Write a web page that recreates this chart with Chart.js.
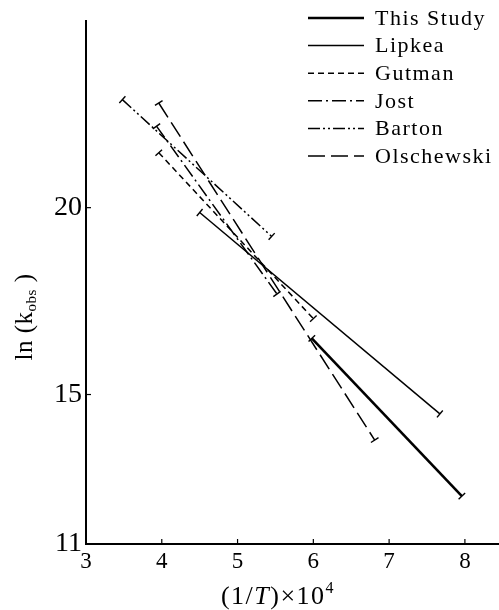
<!DOCTYPE html>
<html>
<head>
<meta charset="utf-8">
<script src="https://cdn.jsdelivr.net/npm/chart.js@4.4.0/dist/chart.umd.min.js"></script>
<style>
  html, body { margin: 0; padding: 0; background: #fff; }
  #wrap { width: 499px; height: 610px; }
</style>
</head>
<body>
<div id="wrap"><canvas id="chart" width="499" height="610"></canvas></div>
<script>
// series names, in legend order
const seriesNames = ['This Study', 'Lipkea', 'Gutman', 'Jost', 'Barton', 'Olschewski'];

// end points of each line: x = (1/T) x 10^4, y = ln(k_obs)
const thisStudyX = [5.98, 7.96];
const thisStudyY = [16.50, 12.28];
const lipkeaX = [4.50, 7.67];
const lipkeaY = [19.87, 14.48];
const gutmanX = [3.96, 6.00];
const gutmanY = [21.47, 17.03];
const jostX = [3.93, 5.52];
const jostY = [22.18, 17.69];
const bartonX = [3.48, 5.45];
const bartonY = [22.89, 19.23];
const olschewskiX = [3.96, 6.81];
const olschewskiY = [22.80, 13.78];

const xTicks = [3, 4, 5, 6, 7, 8];
const yTicks = [11, 15, 20];

const seriesX = [thisStudyX, lipkeaX, gutmanX, jostX, bartonX, olschewskiX];
const seriesY = [thisStudyY, lipkeaY, gutmanY, jostY, bartonY, olschewskiY];

// line styles
const lineWidths = [2.6, 1.5, 1.5, 1.5, 1.5, 1.5];
const lineDashes = [[], [], [6, 4], [14, 4, 2, 4], [12, 3, 2, 3, 2, 3], [17, 6]];

const SERIF = '"Liberation Serif", "Times New Roman", serif';

const datasets = seriesNames.map((name, i) => ({
    label: name,
    data: seriesX[i].map((x, j) => ({ x: x, y: seriesY[i][j] })),
    borderColor: '#000',
    borderWidth: lineWidths[i],
    borderDash: lineDashes[i],
    pointRadius: 0,
    fill: false,
    tension: 0
}));

// short perpendicular bars at both ends of every line
const endCaps = {
    id: 'endCaps',
    afterDatasetsDraw(chart) {
        const ctx = chart.ctx;
        chart.data.datasets.forEach((ds, i) => {
            const pts = chart.getDatasetMeta(i).data;
            if (pts.length < 2) return;
            const a = pts[0], b = pts[pts.length - 1];
            const dx = b.x - a.x, dy = b.y - a.y, len = Math.hypot(dx, dy);
            const nx = -dy / len * 4.5, ny = dx / len * 4.5;
            ctx.save();
            ctx.strokeStyle = '#000';
            ctx.lineWidth = 1.4;
            ctx.setLineDash([]);
            [a, b].forEach(p => {
                ctx.beginPath();
                ctx.moveTo(p.x - nx, p.y - ny);
                ctx.lineTo(p.x + nx, p.y + ny);
                ctx.stroke();
            });
            ctx.restore();
        });
    }
};

// inward tick marks, axis titles and legend
const decorations = {
    id: 'decorations',
    afterDraw(chart) {
        const ctx = chart.ctx;
        const xs = chart.scales.x, ys = chart.scales.y;
        const area = chart.chartArea;
        ctx.save();
        ctx.strokeStyle = '#000';
        ctx.fillStyle = '#000';
        ctx.lineWidth = 1.2;

        xTicks.forEach(v => {
            const px = xs.getPixelForValue(v);
            ctx.beginPath();
            ctx.moveTo(px, area.bottom);
            ctx.lineTo(px, area.bottom - 5);
            ctx.stroke();
        });
        yTicks.forEach(v => {
            const py = ys.getPixelForValue(v);
            ctx.beginPath();
            ctx.moveTo(area.left, py);
            ctx.lineTo(area.left + 5, py);
            ctx.stroke();
        });

        // y title: ln (k_obs)
        ctx.save();
        ctx.translate(32, 317);
        ctx.rotate(-Math.PI / 2);
        ctx.textBaseline = 'alphabetic';
        ctx.textAlign = 'left';
        if ('letterSpacing' in ctx) ctx.letterSpacing = '0.5px';
        const big = '25px ' + SERIF, small = '15px ' + SERIF;
        ctx.font = big; const w1 = ctx.measureText('ln (k').width;
        ctx.font = small; const w2 = ctx.measureText('obs').width;
        ctx.font = big; const w3 = ctx.measureText(' )').width;
        let sx = -(w1 + w2 + w3) / 2;
        ctx.font = big; ctx.fillText('ln (k', sx, 0); sx += w1;
        ctx.font = small; ctx.fillText('obs', sx, 4); sx += w2;
        ctx.font = big; ctx.fillText(' )', sx, 0);
        ctx.restore();

        // x title: (1/T) x 10^4
        if ('letterSpacing' in ctx) ctx.letterSpacing = '1.5px';
        const parts = [
            { t: '(1/', f: '26px ' + SERIF, dy: 0 },
            { t: 'T', f: 'italic 26px ' + SERIF, dy: 0 },
            { t: ')\u00d710', f: '26px ' + SERIF, dy: 0 },
            { t: '4', f: '16px ' + SERIF, dy: -11 }
        ];
        let total = 0;
        parts.forEach(p => { ctx.font = p.f; p.w = ctx.measureText(p.t).width; total += p.w; });
        let tx = 278 - total / 2;
        ctx.textAlign = 'left';
        ctx.textBaseline = 'alphabetic';
        parts.forEach(p => { ctx.font = p.f; ctx.fillText(p.t, tx, 604 + p.dy); tx += p.w; });

        // legend
        ctx.textBaseline = 'middle';
        ctx.font = '22px ' + SERIF;
        if ('letterSpacing' in ctx) ctx.letterSpacing = '1.5px';
        chart.data.datasets.forEach((ds, i) => {
            const ry = 18 + i * 27.6;
            ctx.lineWidth = ds.borderWidth;
            ctx.setLineDash(ds.borderDash);
            ctx.beginPath();
            ctx.moveTo(308, ry);
            ctx.lineTo(364, ry);
            ctx.stroke();
            ctx.setLineDash([]);
            ctx.fillText(ds.label, 375, ry + 1);
        });
        ctx.restore();
    }
};

new Chart(document.getElementById('chart'), {
    type: 'line',
    data: { datasets: datasets },
    options: {
        responsive: false,
        animation: false,
        devicePixelRatio: 1,
        layout: { padding: { top: 12, right: 0, left: 0, bottom: 0 } },
        plugins: {
            legend: { display: false },
            tooltip: { enabled: false }
        },
        scales: {
            x: {
                type: 'linear',
                min: 3,
                max: 8.45,
                afterBuildTicks: s => { s.ticks = xTicks.map(v => ({ value: v })); },
                afterFit: s => { s.height = 66; },
                ticks: {
                    color: '#000',
                    font: { family: SERIF, size: 23 },
                    padding: 4,
                    maxRotation: 0,
                    callback: v => v
                },
                grid: { display: true, drawOnChartArea: false, drawTicks: false },
                border: { display: true, color: '#000', width: 2 }
            },
            y: {
                type: 'linear',
                min: 11,
                max: 25,
                afterBuildTicks: s => { s.ticks = yTicks.map(v => ({ value: v })); },
                afterFit: s => { s.width = 86; },
                ticks: {
                    color: '#000',
                    font: { family: SERIF, size: 28 },
                    padding: 4,
                    callback: v => v
                },
                grid: { display: true, drawOnChartArea: false, drawTicks: false },
                border: { display: true, color: '#000', width: 2 }
            }
        }
    },
    plugins: [endCaps, decorations]
});
</script>
</body>
</html>
